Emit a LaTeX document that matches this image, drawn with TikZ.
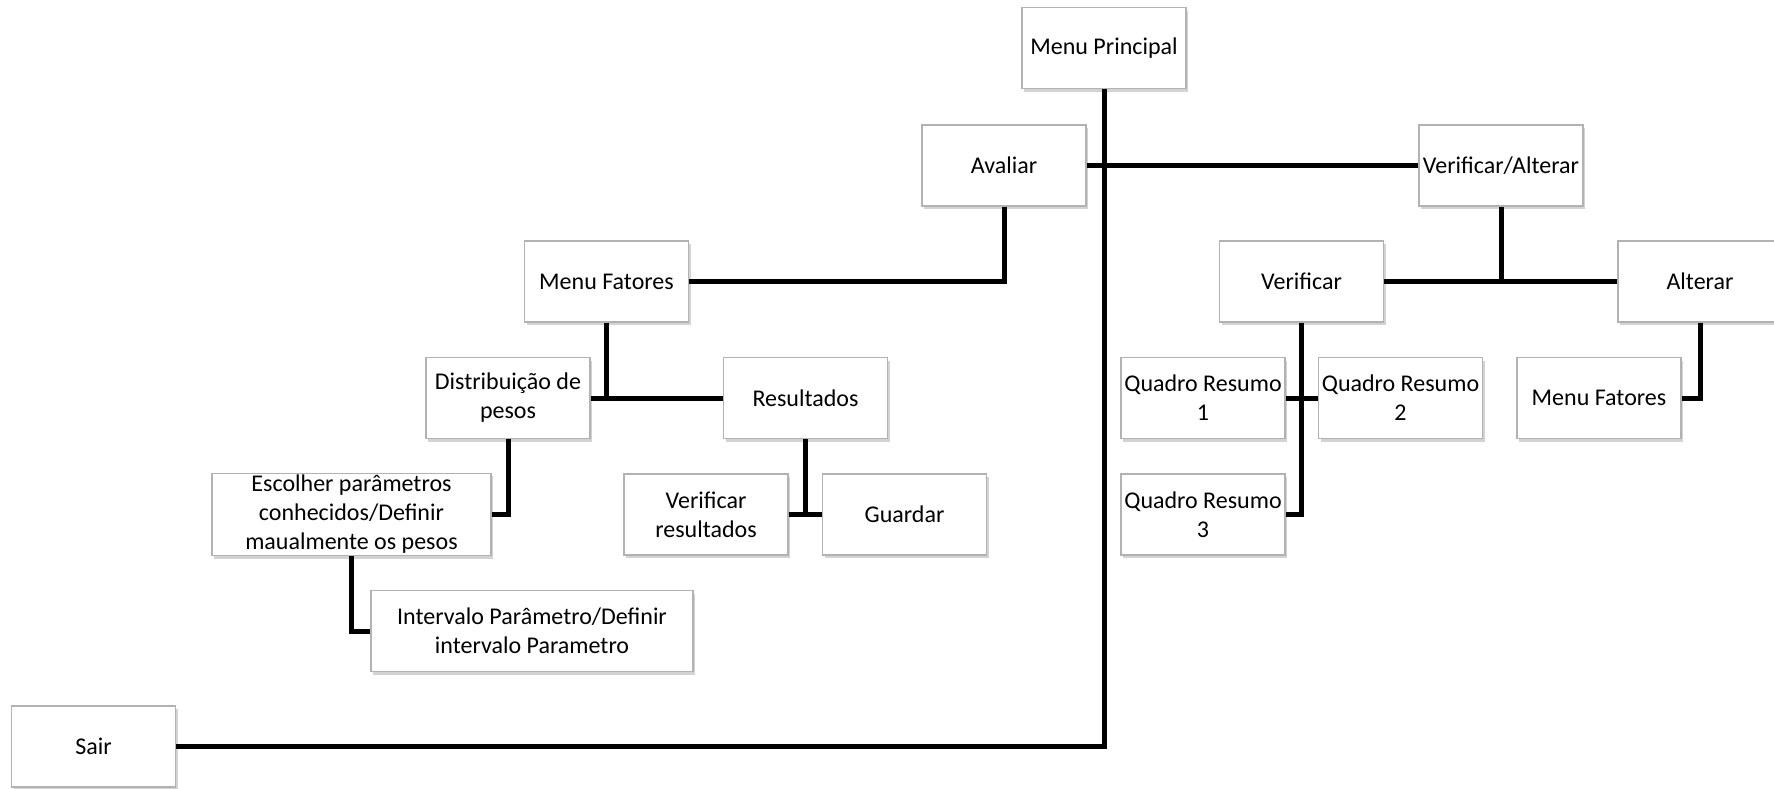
\documentclass[tikz,border=0pt]{standalone}
\usepackage{fontspec}
\setmainfont{Carlito}
\usetikzlibrary{shadows}

\begin{document}
\begin{tikzpicture}[x=0.5pt, y=-0.5pt,
    box/.style={rectangle, draw=gray!60, fill=white, line width=0.6pt, align=center,
        minimum width=82pt, minimum height=40.5pt, inner sep=1pt,
        font=\fontsize{12}{14.5}\selectfont,
        drop shadow={shadow xshift=1pt, shadow yshift=-1.5pt, opacity=0.35}},
    link/.style={line width=2.5pt, black}]
    \useasboundingbox (0,0) rectangle (1774,788);

    \node[box] (main) at (1104,48) {Menu Principal};
    \node[box] (aval) at (1004,165.5) {Avaliar};
    \node[box] (veralt) at (1501,165.5) {Verificar/Alterar};
    \node[box] (fatores) at (606.5,281.5) {Menu Fatores};
    \node[box] (distrib) at (508,398) {Distribuição de\\pesos};
    \node[box] (result) at (805.5,398) {Resultados};
    \node[box, minimum width=139.5pt] (escolher) at (351.5,514.5) {Escolher parâmetros\\conhecidos/Definir\\maualmente os pesos};
    \node[box] (verres) at (706,514.5) {Verificar\\resultados};
    \node[box] (guardar) at (904.5,514.5) {Guardar};
    \node[box, minimum width=161pt] (intervalo) at (532,631) {Intervalo Parâmetro/Definir\\intervalo Parametro};
    \node[box] (sair) at (93.5,746.5) {Sair};
    \node[box] (verif) at (1301.5,281.5) {Verificar};
    \node[box] (alterar) at (1700,281.5) {Alterar};
    \node[box] (qr1) at (1203,398) {Quadro Resumo\\1};
    \node[box] (qr2) at (1400.5,398) {Quadro Resumo\\2};
    \node[box] (qr3) at (1203,514.5) {Quadro Resumo\\3};
    \node[box] (mfat) at (1599,398) {Menu Fatores};

    \draw[link] (main.south) |- (sair.east);
    \draw[link] (aval.east) -- (veralt.west);
    \draw[link] (aval.south) |- (fatores.east);
    \draw[link] (fatores.south) -- (fatores.south |- distrib.east);
    \draw[link] (distrib.east) -- (result.west);
    \draw[link] (distrib.south) |- (escolher.east);
    \draw[link] (escolher.south) |- (intervalo.west);
    \draw[link] (result.south) -- (result.south |- verres.east);
    \draw[link] (verres.east) -- (guardar.west);
    \draw[link] (veralt.south) -- (veralt.south |- verif.east);
    \draw[link] (verif.east) -- (alterar.west);
    \draw[link] (verif.south) |- (qr3.east);
    \draw[link] (qr1.east) -- (qr2.west);
    \draw[link] (alterar.south) |- (mfat.east);
\end{tikzpicture}
\end{document}
